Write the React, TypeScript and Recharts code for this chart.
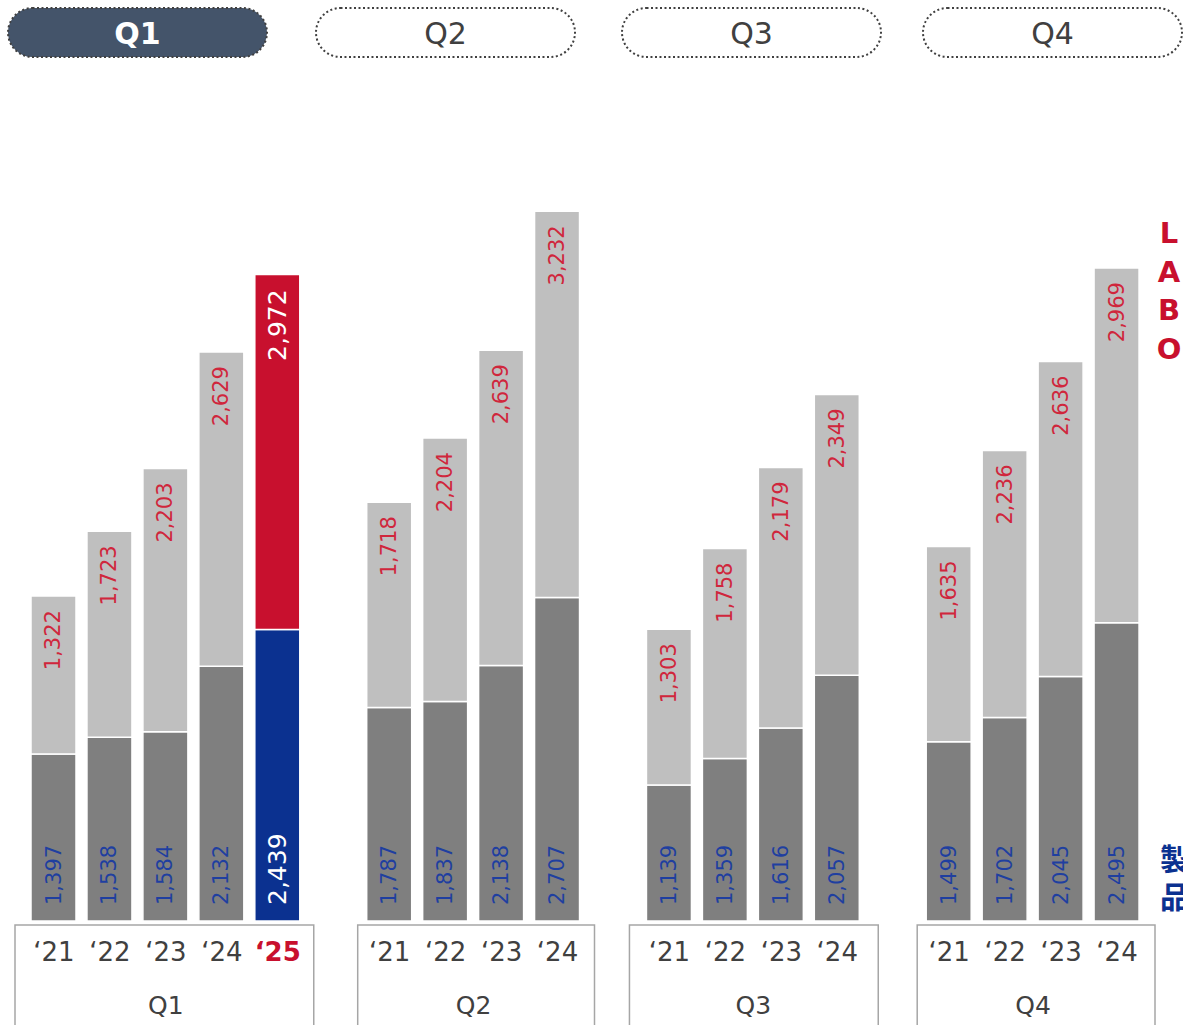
import React from 'react';
import { BarChart, Bar, XAxis, YAxis, Cell, LabelList } from 'recharts';

const quarters = ['Q1', 'Q2', 'Q3', 'Q4'];
const q1Years = ['‘21', '‘22', '‘23', '‘24', '‘25'];
const pastYears = ['‘21', '‘22', '‘23', '‘24'];

// 製品 (bottom) and LABO (top) by quarter
const seihinQ1 = [1397, 1538, 1584, 2132, 2439];
const seihinQ2 = [1787, 1837, 2138, 2707];
const seihinQ3 = [1139, 1359, 1616, 2057];
const seihinQ4 = [1499, 1702, 2045, 2495];

const laboQ1 = [1322, 1723, 2203, 2629, 2972];
const laboQ2 = [1718, 2204, 2639, 3232];
const laboQ3 = [1303, 1758, 2179, 2349];
const laboQ4 = [1635, 2236, 2636, 2969];

const groups = [
  { q: quarters[0], years: q1Years, seihin: seihinQ1, labo: laboQ1 },
  { q: quarters[1], years: pastYears, seihin: seihinQ2, labo: laboQ2 },
  { q: quarters[2], years: pastYears, seihin: seihinQ3, labo: laboQ3 },
  { q: quarters[3], years: pastYears, seihin: seihinQ4, labo: laboQ4 },
];

type Row = {
  key: string;
  year: string;
  quarter: string;
  groupStart: number; // number of bars in group, 0 if not first
  current: boolean;
  seihin: number | null;
  labo: number | null;
};

const rows: Row[] = [];
groups.forEach((g, gi) => {
  g.years.forEach((y, i) => {
    rows.push({
      key: `${g.q}-${y}`,
      year: y,
      quarter: g.q,
      groupStart: i === 0 ? g.years.length : 0,
      current: y === '‘25',
      seihin: g.seihin[i],
      labo: g.labo[i],
    });
  });
  if (gi < groups.length - 1) {
    rows.push({ key: `gap-${gi}`, year: '', quarter: '', groupStart: 0, current: false, seihin: null, labo: null });
  }
});

const W = 1183;
const H = 1025;
const LEFT = 26;
const RIGHT = 38;
const STEP = (W - LEFT - RIGHT) / rows.length;

const FONT = '"DejaVu Sans", Verdana, sans-serif';
const RED = '#c8102e';
const BLUE = '#0b3190';
const LABEL_RED = '#d0263c';
const LABEL_BLUE = '#1f3fa0';

const fmt = (v: number) => v.toLocaleString('en-US');

// box padding left/right per group
const boxPad = [[11, 8], [4, 9], [12, 13], [4, 10]];

const XTick = (props: any) => {
  const { x, y, index } = props;
  const row = rows[index];
  if (!row) return null;
  const gi = quarters.indexOf(row.quarter);
  return (
    <g>
      {row.groupStart > 0 && (
        <g>
          <path
            d={`M${x - STEP / 2 - boxPad[gi][0]},${y + 110} V${y + 4} H${x + (row.groupStart - 0.5) * STEP + boxPad[gi][1]} V${y + 110}`}
            fill="none"
            stroke="#a6a6a6"
            strokeWidth={1.5}
          />
          <text
            x={x + ((row.groupStart - 1) * STEP) / 2}
            y={y + 93}
            textAnchor="middle"
            fontSize={25}
            fill="#404040"
            fontFamily={FONT}
          >
            {row.quarter}
          </text>
        </g>
      )}
      <text
        x={x}
        y={y + 40}
        textAnchor="middle"
        fontSize={26}
        fontWeight={row.current ? 'bold' : 'normal'}
        fill={row.current ? RED : '#404040'}
        fontFamily={FONT}
      >
        {row.year}
      </text>
    </g>
  );
};

const TopLabel = (props: any) => {
  const { x, y, width, value, index } = props;
  if (value == null) return null;
  const cur = rows[index]?.current;
  const cx = x + width / 2;
  const ty = y + (cur ? 15 : 14);
  return (
    <text
      x={cx}
      y={ty}
      transform={`rotate(-90 ${cx} ${ty})`}
      textAnchor="end"
      dominantBaseline="central"
      fontSize={cur ? 25 : 21}
      fill={cur ? '#fff' : LABEL_RED}
      fontFamily={FONT}
    >
      {fmt(value)}
    </text>
  );
};

const BottomLabel = (props: any) => {
  const { x, y, width, height, value, index } = props;
  if (value == null) return null;
  const cur = rows[index]?.current;
  const cx = x + width / 2;
  const ty = y + height - 16;
  return (
    <text
      x={cx}
      y={ty}
      transform={`rotate(-90 ${cx} ${ty})`}
      textAnchor="start"
      dominantBaseline="central"
      fontSize={cur ? 25 : 21}
      fill={cur ? '#fff' : LABEL_BLUE}
      fontFamily={FONT}
    >
      {fmt(value)}
    </text>
  );
};

const Pill = ({ x, label, active }: { x: number; label: string; active: boolean }) => (
  <g>
    <rect
      x={x}
      y={8}
      width={259}
      height={49}
      rx={24.5}
      fill={active ? '#44546a' : '#fff'}
      stroke="#404040"
      strokeWidth={2}
      strokeDasharray="2 2.5"
    />
    <text
      x={x + 129.5}
      y={44}
      textAnchor="middle"
      fontSize={30}
      fontWeight={active ? 'bold' : 'normal'}
      fill={active ? '#fff' : '#404040'}
      fontFamily={FONT}
    >
      {label}
    </text>
  </g>
);

const pillX = [8, 316, 622, 923];

export default function App() {
  return (
    <div style={{ position: 'absolute', left: 0, top: 0, width: W, height: H, background: '#fff', overflow: 'hidden' }}>
      <BarChart
        width={W}
        height={H}
        data={rows}
        margin={{ top: 204, right: RIGHT, left: LEFT, bottom: 0 }}
        barSize={45}
      >
        <XAxis
          dataKey="key"
          height={104}
          interval={0}
          axisLine={false}
          tickLine={false}
          tickSize={0}
          tickMargin={0}
          tick={<XTick />}
        />
        <YAxis hide domain={[0, 6000]} />
        <Bar dataKey="seihin" stackId="a" isAnimationActive={false} stroke="#fff" strokeWidth={1.5}>
          {rows.map((r) => (
            <Cell key={r.key} fill={r.current ? BLUE : '#7f7f7f'} />
          ))}
          <LabelList dataKey="seihin" content={<BottomLabel />} />
        </Bar>
        <Bar dataKey="labo" stackId="a" isAnimationActive={false} stroke="#fff" strokeWidth={1.5}>
          {rows.map((r) => (
            <Cell key={r.key} fill={r.current ? RED : '#bfbfbf'} />
          ))}
          <LabelList dataKey="labo" content={<TopLabel />} />
        </Bar>
      </BarChart>
      <svg width={W} height={H} style={{ position: 'absolute', left: 0, top: 0, pointerEvents: 'none' }}>
        {quarters.map((q, i) => (
          <Pill key={q} x={pillX[i]} label={q} active={i === 0} />
        ))}
        {['L', 'A', 'B', 'O'].map((c, i) => (
          <text
            key={c}
            x={1169}
            y={243 + i * 38.5}
            textAnchor="middle"
            fontSize={29}
            fontWeight="bold"
            fill={RED}
            fontFamily={FONT}
          >
            {c}
          </text>
        ))}
        {['製', '品'].map((c, i) => (
          <text
            key={c}
            x={1160}
            y={870 + i * 38}
            fontSize={30}
            fontWeight="bold"
            fill={BLUE}
            fontFamily='"Noto Sans CJK JP", sans-serif'
          >
            {c}
          </text>
        ))}
      </svg>
    </div>
  );
}
